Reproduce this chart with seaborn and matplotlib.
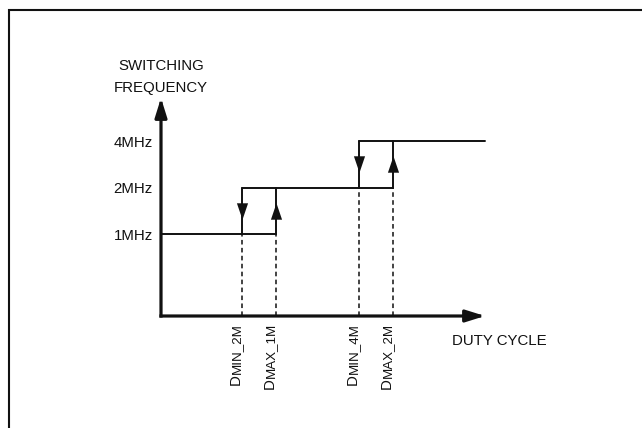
import matplotlib
matplotlib.use('Agg')
import numpy as np
import pandas as pd
import matplotlib.pyplot as plt
from matplotlib.path import Path
from matplotlib.patches import Rectangle
import seaborn as sns

# frequency steps (log2 of MHz) and their labels
freq_labels = ['1MHz', '2MHz', '4MHz']
freq_levels = [0, 1, 2]

# duty cycle range over which each frequency step holds (hysteresis)
level_start = [0.0, 0.25, 0.61]
level_end = [0.355, 0.715, 1.0]

# threshold names on the duty cycle axis
thr_names = ['MIN_2M', 'MAX_1M', 'MIN_4M', 'MAX_2M']
thr_values = [0.25, 0.355, 0.61, 0.715]
thr_level = [0, 0, 1, 1]  # level the dashed drop line starts from

# axis extent
y_origin = -1.76
y_top = 2.93
x_end = 1.0

sns.set_theme(style='white')
plt.rcParams['font.family'] = ['Liberation Sans', 'DejaVu Sans']
ink = '#111111'
fs = 10.8

# solid segments of the hysteresis curve
rows = []
seg = 0
for lv, a, b in zip(freq_levels, level_start, level_end):
    rows += [(seg, a, lv), (seg, b, lv)]
    seg += 1
for i in range(len(freq_levels) - 1):
    rows += [(seg, level_end[i], freq_levels[i]), (seg, level_end[i], freq_levels[i + 1])]
    seg += 1
    rows += [(seg, level_start[i + 1], freq_levels[i + 1]), (seg, level_start[i + 1], freq_levels[i])]
    seg += 1
solid = pd.DataFrame(rows, columns=['seg', 'duty', 'level'])

# dashed drop lines to the axis
rows = []
for k, (v, lv) in enumerate(zip(thr_values, thr_level)):
    rows += [(k, v, y_origin), (k, v, lv)]
dashed = pd.DataFrame(rows, columns=['seg', 'duty', 'level'])

fig = plt.figure(figsize=(6.42, 4.28), dpi=100)
ax = fig.add_axes([161 / 642, (428 - 316) / 428, 324 / 642, 218 / 428])
ax.set_facecolor('none')
ax.set_xlim(0, x_end)
ax.set_ylim(y_origin, y_top)

sns.lineplot(data=dashed, x='duty', y='level', units='seg', estimator=None, sort=False,
             color=ink, lw=1.1, linestyle=(0, (3, 2.2)), clip_on=False, ax=ax)
sns.lineplot(data=solid, x='duty', y='level', units='seg', estimator=None, sort=False,
             color=ink, lw=1.4, clip_on=False, ax=ax)

# arrow heads in the middle of the transitions
up = Path([(-0.34, -0.5), (0.34, -0.5), (0, 0.5), (-0.34, -0.5)])
down = Path([(-0.34, 0.5), (0.34, 0.5), (0, -0.5), (-0.34, 0.5)])
up_x = level_end[:-1]
up_y = [(freq_levels[i] + freq_levels[i + 1]) / 2 for i in range(len(freq_levels) - 1)]
dn_x = level_start[1:]
sns.scatterplot(x=up_x, y=up_y, marker=up, s=140, color=ink, linewidth=0, clip_on=False, ax=ax)
sns.scatterplot(x=dn_x, y=up_y, marker=down, s=140, color=ink, linewidth=0, clip_on=False, ax=ax)

# axes with arrows
arrow = dict(arrowstyle='-|>,head_length=1.15,head_width=0.36', lw=2.3, color=ink,
             shrinkA=0, shrinkB=0, mutation_scale=10, capstyle='projecting')
ax.annotate('', xy=(0, y_top), xytext=(0, y_origin), arrowprops=arrow, annotation_clip=False)
ax.annotate('', xy=(x_end, y_origin), xytext=(0, y_origin), arrowprops=arrow, annotation_clip=False)

for s in ax.spines.values():
    s.set_visible(False)
ax.set_xticks([])
ax.set_yticks(freq_levels, freq_labels)
ax.tick_params(axis='y', length=0, pad=6, labelsize=fs, labelcolor=ink)
ax.set_xlabel('')
ax.set_ylabel('')

txt = dict(fontsize=fs, color=ink, annotation_clip=False, textcoords='offset points')
ax.annotate('SWITCHING', xy=(0, y_top), xytext=(0, 20), ha='center', va='baseline', **txt)
ax.annotate('FREQUENCY', xy=(0, y_top), xytext=(0, 4.5), ha='center', va='baseline', **txt)
ax.annotate('DUTY CYCLE', xy=(x_end, y_origin), xytext=(-23.8, -20.9), ha='left', va='baseline', **txt)

# rotated threshold labels: big "D" followed by smaller suffix
fig.canvas.draw()
renderer = fig.canvas.get_renderer()
for v, name in zip(thr_values, thr_names):
    sub = ax.annotate(name, xy=(v, y_origin), xytext=(-1.5, -5), rotation=90, rotation_mode='anchor',
                      ha='right', va='baseline', fontsize=9.6, color=ink,
                      textcoords='offset points', annotation_clip=False)
    h = sub.get_window_extent(renderer).height * 72 / fig.dpi
    ax.annotate('D', xy=(v, y_origin), xytext=(-1.5, -5 - h), rotation=90, rotation_mode='anchor',
                ha='right', va='baseline', fontsize=fs, color=ink,
                textcoords='offset points', annotation_clip=False)

# frame around the figure (only left and top edges fall inside the image)
fig.add_artist(Rectangle((8.5 / 642, -0.1), 1.2, 1.1 - 9.5 / 428, transform=fig.transFigure,
                         fill=False, lw=1.5, edgecolor=ink))

fig.savefig('out.png', dpi=100)
